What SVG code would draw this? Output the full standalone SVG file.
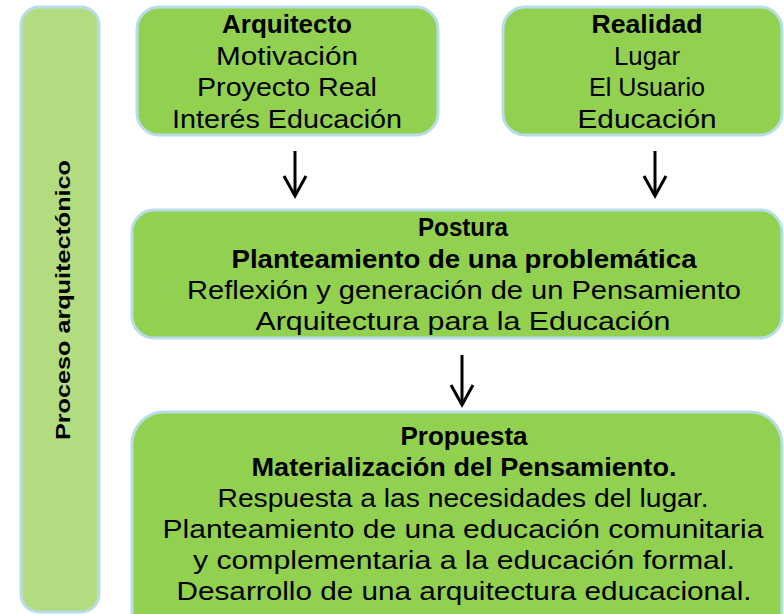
<svg xmlns="http://www.w3.org/2000/svg" width="784" height="614" viewBox="0 0 784 614">
<defs>
<style>
.box{fill:#92d050;stroke:#b7dde8;stroke-width:3}
.bar{fill:#b3dc80;stroke:#b7dde8;stroke-width:3}
text{font-family:"Liberation Sans",Arial,sans-serif;font-size:25px;fill:#000;text-anchor:middle}
.b{font-weight:bold}
.arr{stroke:#000;stroke-width:3;fill:none}
</style>
</defs>
<rect width="784" height="614" fill="#fff"/>
<g id="side">
<rect class="bar" x="21" y="7" width="78" height="605" rx="18"/>
<text class="b" transform="translate(70,300) rotate(-90)" textLength="280" lengthAdjust="spacingAndGlyphs" style="font-size:20px">Proceso arquitectónico</text>
</g>
<g id="arquitecto">
<rect class="box" x="137" y="7" width="301" height="128" rx="22"/>
<text class="b" x="287" y="33" textLength="130" lengthAdjust="spacingAndGlyphs">Arquitecto</text>
<text x="287" y="65" textLength="142" lengthAdjust="spacingAndGlyphs">Motivación</text>
<text x="287" y="96" textLength="180" lengthAdjust="spacingAndGlyphs">Proyecto Real</text>
<text x="287" y="128" textLength="230" lengthAdjust="spacingAndGlyphs">Interés Educación</text>
</g>
<g id="realidad">
<rect class="box" x="503" y="7" width="279" height="128" rx="22"/>
<text class="b" x="647" y="33" textLength="111" lengthAdjust="spacingAndGlyphs">Realidad</text>
<text x="647" y="65" textLength="66" lengthAdjust="spacingAndGlyphs">Lugar</text>
<text x="647" y="96" textLength="116" lengthAdjust="spacingAndGlyphs">El Usuario</text>
<text x="647" y="128" textLength="139" lengthAdjust="spacingAndGlyphs">Educación</text>
</g>
<g id="postura">
<rect class="box" x="132" y="210" width="650" height="128" rx="22"/>
<text class="b" x="463" y="236" textLength="90" lengthAdjust="spacingAndGlyphs">Postura</text>
<text class="b" x="464" y="268" textLength="465" lengthAdjust="spacingAndGlyphs">Planteamiento de una problemática</text>
<text x="464" y="299" textLength="554" lengthAdjust="spacingAndGlyphs">Reflexión y generación de un Pensamiento</text>
<text x="463" y="330" textLength="415" lengthAdjust="spacingAndGlyphs">Arquitectura para la Educación</text>
</g>
<g id="propuesta">
<rect class="box" x="132" y="412" width="650" height="240" rx="32"/>
<text class="b" x="464" y="445" textLength="127" lengthAdjust="spacingAndGlyphs">Propuesta</text>
<text class="b" x="464" y="476" textLength="425" lengthAdjust="spacingAndGlyphs">Materialización del Pensamiento.</text>
<text x="463" y="507" textLength="491" lengthAdjust="spacingAndGlyphs">Respuesta a las necesidades del lugar.</text>
<text x="463" y="538" textLength="601" lengthAdjust="spacingAndGlyphs">Planteamiento de una educación comunitaria</text>
<text x="464" y="569" textLength="542" lengthAdjust="spacingAndGlyphs">y complementaria a la educación formal.</text>
<text x="464" y="600" textLength="575" lengthAdjust="spacingAndGlyphs">Desarrollo de una arquitectura educacional.</text>
</g>
<g id="connectors">
<line class="arr" x1="295" y1="151" x2="295" y2="194"/>
<polyline class="arr" points="284,176 295,196 306,176"/>
<line class="arr" x1="655" y1="151" x2="655" y2="194"/>
<polyline class="arr" points="644,176 655,196 666,176"/>
<line class="arr" x1="462" y1="355" x2="462" y2="403"/>
<polyline class="arr" points="451,385 462,405 473,385"/>
</g>
</svg>
